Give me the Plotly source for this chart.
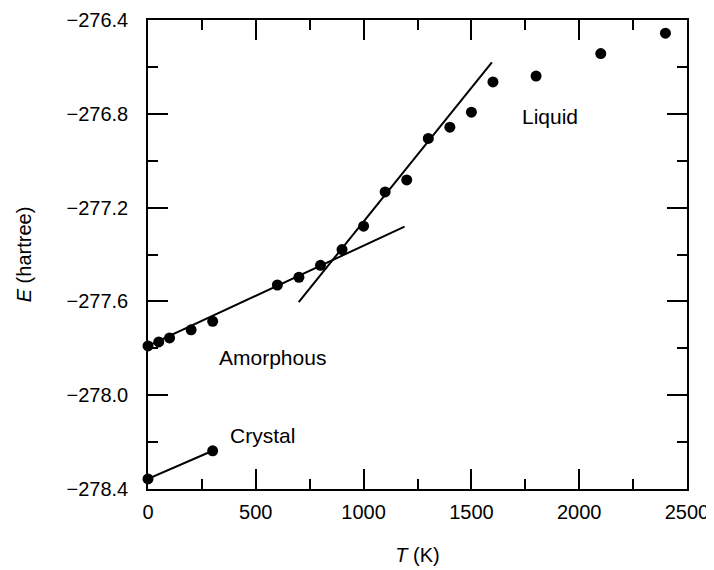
import plotly.graph_objects as go

# Data
amorph_T = [0, 50, 100, 200, 300, 600, 700, 800, 900, 1000, 1100, 1200, 1300,
            1400, 1500, 1600, 1800, 2100, 2400]
amorph_E = [-277.790, -277.773, -277.756, -277.721, -277.685, -277.530, -277.497,
            -277.446, -277.379, -277.279, -277.133, -277.082, -276.905, -276.857,
            -276.793, -276.664, -276.639, -276.543, -276.456]

crystal_T = [0, 300]
crystal_E = [-278.357, -278.237]

# Fitted straight lines (end points)
amorph_fit_T = [0, 1190]
amorph_fit_E = [-277.790, -277.281]
liquid_fit_T = [699, 1595]
liquid_fit_E = [-277.603, -276.581]

label_text = ["Amorphous", "Crystal", "Liquid"]
label_T = [578, 529, 1866]
label_E = [-277.839, -278.172, -276.812]

FONT = "Liberation Sans, Arial, Helvetica, sans-serif"
fig = go.Figure()

line_style = dict(color="black", width=2)
fig.add_trace(go.Scatter(x=amorph_fit_T, y=amorph_fit_E, mode="lines", line=line_style,
                         hoverinfo="skip"))
fig.add_trace(go.Scatter(x=liquid_fit_T, y=liquid_fit_E, mode="lines", line=line_style,
                         hoverinfo="skip"))
fig.add_trace(go.Scatter(x=crystal_T, y=crystal_E, mode="lines+markers", line=line_style,
                         marker=dict(color="black", size=11), cliponaxis=False))
fig.add_trace(go.Scatter(x=amorph_T, y=amorph_E, mode="markers",
                         marker=dict(color="black", size=11), cliponaxis=False))

for t, x, y in zip(label_text, label_T, label_E):
    fig.add_annotation(x=x, y=y, text=t, showarrow=False,
                       font=dict(size=21, color="black", family=FONT))

axis_common = dict(showgrid=False, zeroline=False, showline=True, linecolor="black",
                   linewidth=1.5, mirror="allticks", ticks="inside", ticklen=20,
                   tickwidth=1.5, tickcolor="black", automargin=False,
                   tickfont=dict(size=20, color="black", family=FONT))

fig.update_xaxes(range=[0, 2500], dtick=500, tick0=0, ticklabelstandoff=4,
                 minor=dict(dtick=250, ticks="inside", ticklen=10, tickwidth=1.5,
                            tickcolor="black"),
                 title=dict(text="<i>T</i> (K)", font=dict(size=20, color="black", family=FONT),
                            standoff=26),
                 **axis_common)
fig.update_yaxes(range=[-278.4, -276.4], dtick=0.4, tick0=-278.4, tickformat=".1f",
                 ticklabelstandoff=14,
                 minor=dict(dtick=0.2, ticks="inside", ticklen=10, tickwidth=1.5,
                            tickcolor="black"),
                 title=dict(text="<i>E</i> (hartree)", font=dict(size=20, color="black", family=FONT),
                            standoff=30),
                 **axis_common)

# The page body has a default 8 px margin, so the figure is sized/offset to compensate
fig.update_layout(width=706, height=562, showlegend=False,
                  plot_bgcolor="white", paper_bgcolor="white",
                  margin=dict(l=140, r=27, t=12, b=81),
                  font=dict(family=FONT))
fig.write_html("out.html")
